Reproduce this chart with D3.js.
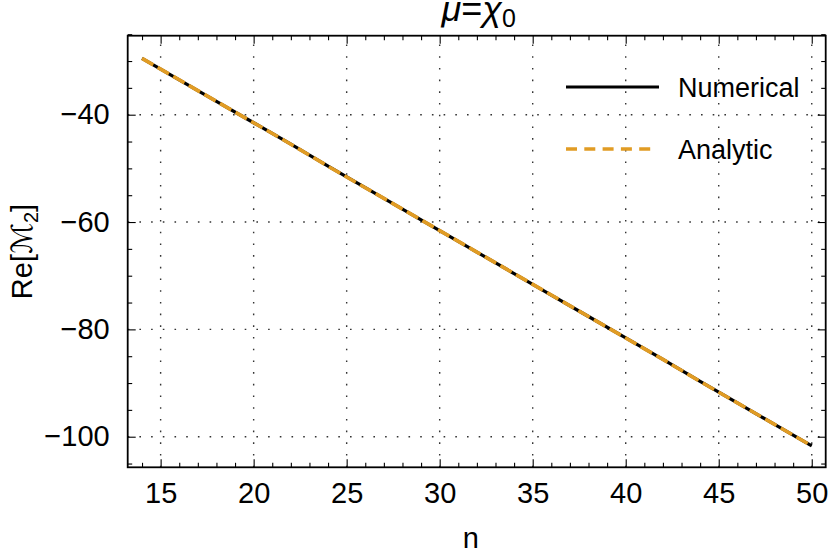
<!DOCTYPE html>
<html><head><meta charset="utf-8">
<script src="https://cdn.jsdelivr.net/npm/d3@7"></script>
<style>
body{margin:0;background:#fff;}
text{font-family:"Liberation Sans",Arial,sans-serif;}
</style></head>
<body><svg id="c" width="830" height="556"></svg>
<script>
const nValues = [14,16,18,20,22,24,26,28,30,32,34,36,38,40,42,44,46,48,50];
const numerical = [-29.5,-33.5,-37.5,-41.5,-45.5,-49.6,-53.6,-57.6,-61.6,-65.6,-69.6,-73.6,-77.6,-81.6,-85.6,-89.7,-93.7,-97.7,-101.7];
const analytic  = [-29.5,-33.5,-37.5,-41.5,-45.5,-49.6,-53.6,-57.6,-61.6,-65.6,-69.6,-73.6,-77.6,-81.6,-85.6,-89.7,-93.7,-97.7,-101.7];
const xTicks = [15,20,25,30,35,40,45,50];
const yTicks = [-100,-80,-60,-40];
const xMinor = d3.range(14,51,1).filter(v=>v%5!==0);
const yMinor = d3.range(-105,-24,5).filter(v=>v%20!==0);
const seriesNames = ["Numerical","Analytic"];
const orange = "#E19C24";

const svg = d3.select("#c");
const L=127.7,R=825.7,T=35.7,B=467.3;
const x = d3.scaleLinear().domain([13.23,50.75]).range([L,R]);
const y = d3.scaleLinear().domain([-105.7,-25.28]).range([B,T]);

// grid
const grid = svg.append("g").attr("stroke","#333").attr("stroke-width",1.4).attr("stroke-dasharray","1.6,10.1");
grid.selectAll(".gx").data(xTicks).join("line").attr("x1",d=>x(d)).attr("x2",d=>x(d)).attr("y1",B).attr("y2",T);
grid.selectAll(".gy").data(yTicks).join("line").attr("y1",d=>y(d)).attr("y2",d=>y(d)).attr("x1",L).attr("x2",R);

// lines
const line = d3.line().x((d,i)=>x(nValues[i])).y(d=>y(d));
svg.append("path").datum(numerical).attr("d",line).attr("fill","none").attr("stroke","#000").attr("stroke-width",3.2).attr("stroke-linecap","butt");
svg.append("path").datum(analytic).attr("d",line).attr("fill","none").attr("stroke",orange).attr("stroke-width",3.6).attr("stroke-dasharray","13,5");

// frame axes
const tickMaj=8, tickMin=4.5;
const ax = svg.append("g");
function axis(gen, tr){ const g=ax.append("g").attr("transform",tr).call(gen); g.select(".domain").remove(); g.selectAll("line").attr("stroke","#000").attr("stroke-width",1.1); return g;}
const fs=29;
let gb = axis(d3.axisBottom(x).tickValues(xTicks).tickSize(-tickMaj).tickPadding(15), `translate(0,${B})`);
gb.selectAll("text").attr("font-size",fs).attr("fill","#000").attr("font-family","Liberation Sans");
axis(d3.axisBottom(x).tickValues(xMinor).tickSize(-tickMin).tickFormat(""), `translate(0,${B})`);
axis(d3.axisTop(x).tickValues(xTicks).tickSize(-tickMaj).tickFormat(""), `translate(0,${T})`);
axis(d3.axisTop(x).tickValues(xMinor).tickSize(-tickMin).tickFormat(""), `translate(0,${T})`);
let gl = axis(d3.axisLeft(y).tickValues(yTicks).tickSize(-tickMaj).tickPadding(18).tickFormat(d=>"\u2212"+Math.abs(d)), `translate(${L},0)`);
gl.selectAll("text").attr("font-size",fs).attr("fill","#000").attr("font-family","Liberation Sans");
axis(d3.axisLeft(y).tickValues(yMinor).tickSize(-tickMin).tickFormat(""), `translate(${L},0)`);
axis(d3.axisRight(y).tickValues(yTicks).tickSize(-tickMaj).tickFormat(""), `translate(${R},0)`);
axis(d3.axisRight(y).tickValues(yMinor).tickSize(-tickMin).tickFormat(""), `translate(${R},0)`);
svg.append("rect").attr("x",L).attr("y",T).attr("width",R-L).attr("height",B-T).attr("fill","none").attr("stroke","#000").attr("stroke-width",1.8);

// title
const t = svg.append("text").attr("x",(L+R)/2+2).attr("y",21).attr("text-anchor","middle").attr("font-size",36);
t.append("tspan").attr("font-style","italic").text("\u03BC");
t.append("tspan").text("=");
t.append("tspan").attr("font-style","italic").text("\u03C7");
t.append("tspan").attr("font-size",25).attr("dy",6).text("0");

// axis labels
svg.append("text").attr("x",(L+R)/2-6).attr("y",548).attr("text-anchor","middle").attr("font-size",29).text("n");
const yl = svg.append("text").attr("transform",`translate(32,${(T+B)/2}) rotate(-90)`).attr("text-anchor","middle").attr("font-size",29);
yl.append("tspan").text("Re[");
yl.append("tspan").attr("font-family","DejaVu Sans").attr("font-style","italic").text("\u2133");
yl.append("tspan").attr("font-size",20).attr("dy",6).text("2");
yl.append("tspan").attr("dy",-6).text("]");

// legend
const lg = svg.append("g");
const legY=[87,149];
lg.append("line").attr("x1",566).attr("x2",659).attr("y1",legY[0]).attr("y2",legY[0]).attr("stroke","#000").attr("stroke-width",3.2);
lg.append("line").attr("x1",566).attr("x2",654).attr("y1",legY[1]).attr("y2",legY[1]).attr("stroke",orange).attr("stroke-width",3.6).attr("stroke-dasharray","11,7.3");
lg.selectAll("text").data(seriesNames).join("text").attr("x",678).attr("y",(d,i)=>legY[i]+9.5).attr("font-size",27).text(d=>d);
</script></body></html>
